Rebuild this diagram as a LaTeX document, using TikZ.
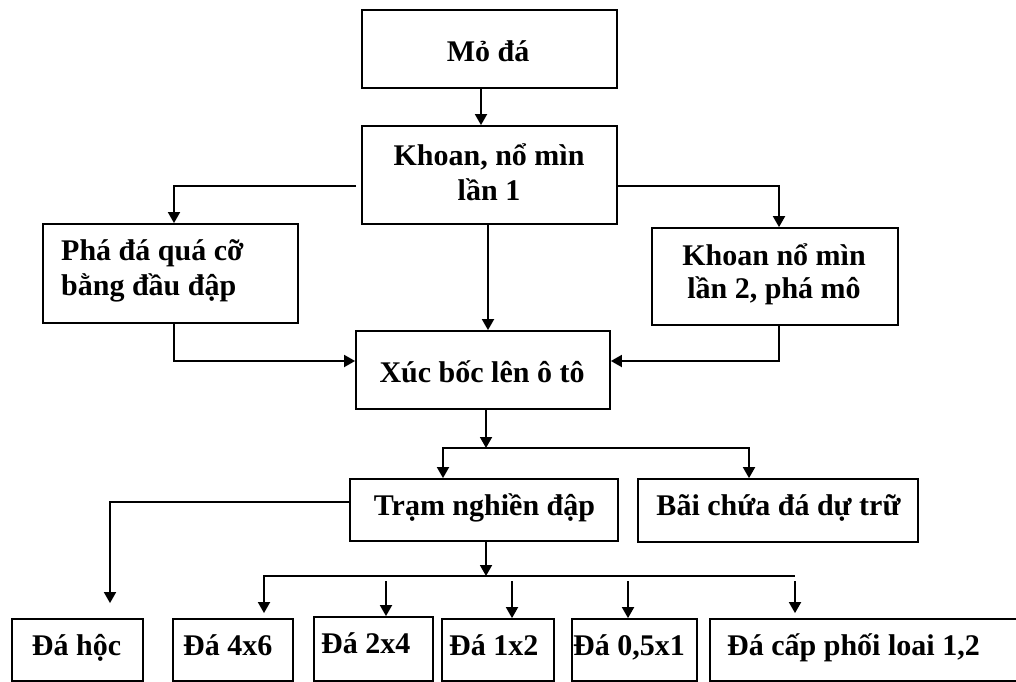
\documentclass[tikz,border=0pt]{standalone}
\usepackage{fontspec}
\setmainfont{Liberation Serif}
\usetikzlibrary{arrows.meta}
\tikzset{
  box/.style={draw, line width=1.8pt, rectangle, inner sep=0pt, minimum height=#1},
  box/.default=62pt,
  lbl/.style={inner sep=0pt, font=\fontsize{30}{35}\selectfont\bfseries},
  arr/.style={line width=1.8pt, -{Triangle[width=12pt,length=11pt]}},
  ln/.style={line width=1.8pt}
}
\begin{document}
\begin{tikzpicture}[x=1pt,y=-1pt]
\useasboundingbox (0,0) rectangle (1016,681);
\clip (0,0) rectangle (1016,681);
% boxes
\node[box=78pt, minimum width=255pt] (mo) at (489.5,49) {};
\node[box=98pt, minimum width=255pt] (k1) at (489.5,175) {};
\node[box=99pt, minimum width=255pt] (pha) at (170.5,273.5) {};
\node[box=97pt, minimum width=246pt] (k2) at (775,276.5) {};
\node[box=78pt, minimum width=254pt] (xuc) at (483,370) {};
\node[box=62pt, minimum width=268pt] (tram) at (484,510) {};
\node[box=63pt, minimum width=280pt] (bai) at (778,510.5) {};
\node[box=62pt, minimum width=131pt] (hoc) at (77.5,650) {};
\node[box=62pt, minimum width=120pt] (d46) at (233,650) {};
\node[box=64pt, minimum width=119pt] (d24) at (373.5,649) {};
\node[box=62pt, minimum width=112pt] (d12) at (498,650) {};
\node[box=62pt, minimum width=125pt] (d05) at (634.5,650) {};
\node[box=62pt, minimum width=320pt] (dcp) at (870,650) {};
% texts
\node[lbl, anchor=base] (tmo) at (488,61) {Mỏ đá};
\node[lbl, anchor=base] (tk1a) at (489,165) {Khoan, nổ mìn};
\node[lbl, anchor=base] (tk1b) at (489,200) {lần 1};
\node[lbl, anchor=base west] (tphaa) at (61,260) {Phá đá quá cỡ};
\node[lbl, anchor=base west] (tphab) at (61,295) {bằng đầu đập};
\node[lbl, anchor=base] (tk2a) at (774,265) {Khoan nổ mìn};
\node[lbl, anchor=base] (tk2b) at (774,298) {lần 2, phá mô};
\node[lbl, anchor=base] (txuc) at (482,382) {Xúc bốc lên ô tô};
\node[lbl, anchor=base] (ttram) at (484.5,515) {Trạm nghiền đập};
\node[lbl, anchor=base] (tbai) at (778.5,515) {Bãi chứa đá dự trữ};
\node[lbl, anchor=base] (thoc) at (76.5,655) {Đá hộc};
\node[lbl, anchor=base west] (t46) at (183,655) {Đá 4x6};
\node[lbl, anchor=base west] (t24) at (321,653) {Đá 2x4};
\node[lbl, anchor=base west] (t12) at (449,655) {Đá 1x2};
\node[lbl, anchor=base west] (t05) at (573,655) {Đá 0,5x1};
\node[lbl, anchor=base west] (tcp) at (727,655) {Đá cấp phối loai 1,2};
% junction coordinates
\coordinate (s1) at (486,448);
\coordinate (s2) at (486,576);
\coordinate (e2) at (795,576);
\coordinate (a24) at (386,581);
\coordinate (a12) at (512,581);
\coordinate (a05) at (628,581);
\coordinate (acp) at (795,581);
% connectors
\draw[arr] ([xshift=-8.5pt]mo.south) -- ([xshift=-8.5pt]k1.north);
\draw[arr] ([xshift=-5pt,yshift=-11pt]k1.west) -| ([xshift=3.5pt]pha.north);
\draw[arr] ([yshift=-11pt]k1.east) -| ([xshift=4pt]k2.north);
\draw[arr] ([xshift=-1.5pt]k1.south) -- ([xshift=-1.5pt]k1.south |- xuc.north);
\draw[arr] ([xshift=3.5pt]pha.south) |- ([yshift=9pt]xuc.west);
\draw[arr] ([xshift=4pt]k2.south) |- ([yshift=9pt]xuc.east);
\draw[arr] (xuc.south -| s1) -- (s1);
\draw[arr] (s1) -| ([xshift=-41pt]tram.north);
\draw[arr] (s1) -| ([xshift=-29pt]bai.north);
\draw[arr] ([yshift=8pt]tram.west) -| ([xshift=32.5pt,yshift=15pt]hoc.north);
\draw[arr] (tram.south -| s2) -- (s2);
\draw[arr] (s2) -| ([xshift=31pt,yshift=5pt]d46.north);
\draw[ln] (s2) -- (e2);
\draw[arr] (a24) -- (a24 |- d24.north);
\draw[arr] (a12) -- (a12 |- d12.north);
\draw[arr] (a05) -- (a05 |- d05.north);
\draw[arr] (acp) -- ([yshift=5pt]acp |- dcp.north);
\end{tikzpicture}
\end{document}
